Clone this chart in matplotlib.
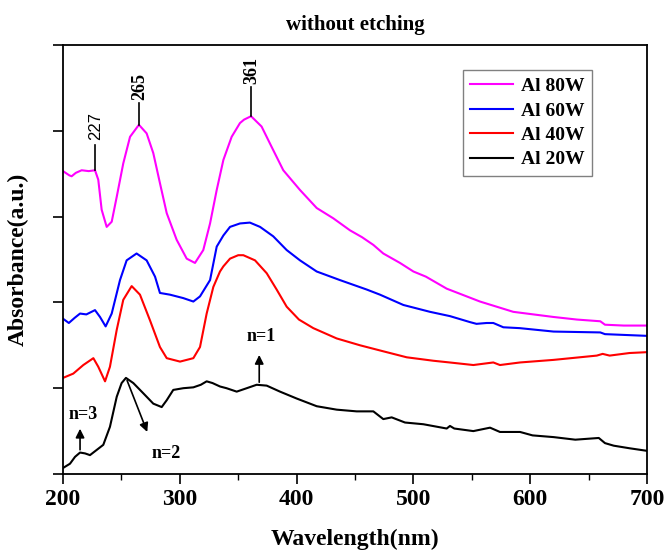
import numpy as np
import matplotlib
matplotlib.use("Agg")
import matplotlib.pyplot as plt
from matplotlib.ticker import MultipleLocator

# UV-vis absorbance spectra (wavelength nm, offset absorbance)
wl_80 = [200, 205.5, 207.4, 211, 216, 222, 227.4, 230.2, 233.1, 237.4, 241.7, 246,
         251.6, 257.4, 265, 271.6, 277.3, 283, 288.8, 297.3, 305.9, 313, 320.1,
         325.9, 331.6, 337.3, 344.4, 351.5, 355, 361, 370, 378.7, 388.6, 402.9,
         417.2, 431.4, 445.7, 456, 465.7, 474.2, 488.5, 500, 510.7, 528.5, 557,
         585.5, 620, 640, 660, 664, 680, 700]
ab_80 = [3.53, 3.48, 3.47, 3.51, 3.54, 3.53, 3.54, 3.43, 3.08, 2.88, 2.94, 3.23,
         3.62, 3.93, 4.07, 3.97, 3.74, 3.39, 3.04, 2.73, 2.51, 2.46, 2.61,
         2.92, 3.31, 3.66, 3.93, 4.09, 4.13, 4.17, 4.05, 3.81, 3.54, 3.31,
         3.10, 2.98, 2.84, 2.76, 2.67, 2.57, 2.46, 2.36, 2.30, 2.16, 2.01,
         1.89, 1.83, 1.80, 1.78, 1.74, 1.73, 1.73]

wl_60 = [200, 205, 210, 214.6, 220, 227.4, 231.7, 236.5, 241.7, 248.8, 254.5, 263,
         271.6, 278.8, 283, 291.6, 303, 311.6, 317.3, 325.9, 331.6, 337.3, 343,
         351.5, 360, 368.7, 380, 391.5, 402.9, 417.2, 437.1, 460, 471.4, 491.4,
         514.2, 531.3, 548.5, 554, 562.7, 568.4, 577, 591, 620, 660, 664, 700]
ab_60 = [1.81, 1.76, 1.82, 1.87, 1.86, 1.91, 1.83, 1.72, 1.87, 2.26, 2.49, 2.57,
         2.49, 2.30, 2.11, 2.09, 2.05, 2.01, 2.07, 2.26, 2.65, 2.78, 2.88,
         2.92, 2.93, 2.88, 2.77, 2.61, 2.49, 2.36, 2.26, 2.15, 2.09, 1.97,
         1.89, 1.84, 1.77, 1.75, 1.76, 1.76, 1.71, 1.70, 1.66, 1.65, 1.63, 1.61]

wl_40 = [200, 208.8, 217.4, 226, 230.2, 236, 240.2, 246, 251.6, 258.8, 265.9, 274.5,
         283, 288.8, 300.2, 311.6, 317.3, 323, 328.7, 334.4, 337.3, 343, 350,
         354.4, 364.4, 374.4, 382.9, 391.5, 402, 414.3, 434.3, 454.3, 474.2,
         494.3, 505.7, 517, 531, 551.3, 568.4, 574.1, 591.3, 620, 657, 662, 668,
         685, 700]
ab_40 = [1.12, 1.17, 1.27, 1.35, 1.25, 1.08, 1.25, 1.68, 2.03, 2.19, 2.09, 1.79,
         1.48, 1.35, 1.31, 1.35, 1.48, 1.87, 2.18, 2.36, 2.42, 2.51, 2.55,
         2.55, 2.49, 2.34, 2.15, 1.95, 1.80, 1.70, 1.58, 1.50, 1.43,
         1.36, 1.34, 1.32, 1.30, 1.27, 1.30, 1.27, 1.30, 1.33, 1.38, 1.40, 1.38,
         1.41, 1.42]

wl_20 = [200, 206, 210.3, 214.6, 218.9, 223.1, 228.8, 234.5, 240.2, 246, 250.2, 253.9,
         260.2, 268.8, 277.3, 284.5, 288.8, 294.4, 303, 311.6, 318, 323, 328,
         334.4, 340, 348.7, 357.3, 365.8, 374.4, 385.8, 400, 417.2, 434.3, 451.4,
         465.7, 474.2, 481.4, 492.8, 508.5, 528.5, 531.3, 535, 551.3, 565.6,
         574.1, 591.3, 602, 620, 638.6, 658.7, 664, 671.5, 685, 700]
ab_20 = [0.07, 0.12, 0.20, 0.25, 0.24, 0.22, 0.28, 0.34, 0.55, 0.90, 1.06, 1.12,
         1.06, 0.94, 0.82, 0.78, 0.86, 0.98, 1.00, 1.01, 1.04, 1.08, 1.06,
         1.02, 1.00, 0.96, 1.00, 1.04, 1.03, 0.96, 0.88, 0.79, 0.75, 0.73,
         0.73, 0.64, 0.66, 0.60, 0.58, 0.53, 0.56, 0.53, 0.50, 0.54,
         0.49, 0.49, 0.45, 0.43, 0.40, 0.42, 0.36, 0.33, 0.30, 0.27]

series_labels = ["Al 80W", "Al 60W", "Al 40W", "Al 20W"]
series_colors = ["#ff00ff", "#0000ff", "#ff0000", "black"]

peak_wl = [227, 265, 361]
peak_line_top = [3.83, 4.32, 4.51]

plt.rcParams["font.family"] = "Liberation Serif"
plt.rcParams["font.weight"] = "bold"
plt.rcParams["axes.labelweight"] = "bold"
plt.rcParams["axes.titleweight"] = "bold"

fig = plt.figure(figsize=(6.68, 5.52), dpi=100)
ax = fig.add_axes([0.0943, 0.1413, 0.8743, 0.7772])

curves = [(wl_80, ab_80), (wl_60, ab_60), (wl_40, ab_40), (wl_20, ab_20)]
for (x, y), lab, col in zip(curves, series_labels, series_colors):
    ax.plot(x, y, color=col, lw=1.5, label=lab)

# peak markers on the 80 W curve
for p, top in zip(peak_wl, peak_line_top):
    base = np.interp(p, wl_80, ab_80)
    ax.plot([p, p], [base, top], color="black", lw=1.2)
    if p == 227:
        ax.text(p + 1, top + 0.06, str(p), rotation=90, ha="center", va="bottom",
                fontsize=12, family="Liberation Sans", fontweight="normal")
    else:
        ax.text(p + 1, top + 0.04, str(p), rotation=90, ha="center", va="bottom",
                fontsize=13)

arrow = dict(arrowstyle="-|>", color="black", lw=1.2, mutation_scale=13)
ax.annotate("", xy=(368, 1.42), xytext=(368, np.interp(368, wl_20, ab_20)), arrowprops=arrow)
ax.text(370, 1.60, "n=1", ha="center", va="center", fontsize=13)
ax.annotate("", xy=(273, 0.46), xytext=(254, 1.12), arrowprops=arrow)
ax.text(288, 0.24, "n=2", ha="center", va="center", fontsize=13)
ax.annotate("", xy=(214.6, 0.56), xytext=(214.6, np.interp(214.6, wl_20, ab_20)), arrowprops=arrow)
ax.text(217, 0.69, "n=3", ha="center", va="center", fontsize=13)

ax.set_xlim(200, 700)
ax.set_ylim(0, 5)
ax.xaxis.set_major_locator(MultipleLocator(100))
ax.xaxis.set_minor_locator(MultipleLocator(50))
ax.yaxis.set_major_locator(MultipleLocator(1))
ax.set_yticklabels([])
ax.tick_params(axis="both", which="major", direction="out", length=7, width=1.2,
               labelsize=17)
ax.tick_params(axis="x", which="minor", direction="out", length=4, width=1.0)
for s in ax.spines.values():
    s.set_linewidth(1.3)

ax.set_xlabel("Wavelength(nm)", fontsize=17, labelpad=14)
ax.set_ylabel("Absorbance(a.u.)", fontsize=17, labelpad=14)
ax.set_title("without etching", fontsize=15, pad=11)

leg = ax.legend(loc="upper right", bbox_to_anchor=(0.923, 0.965), fontsize=14,
                frameon=True, fancybox=False, edgecolor="gray", framealpha=1,
                handlelength=2.2, handletextpad=0.4, borderpad=0.4,
                labelspacing=0.35)
leg.get_frame().set_linewidth(1.0)

fig.savefig("out.png", dpi=100)
